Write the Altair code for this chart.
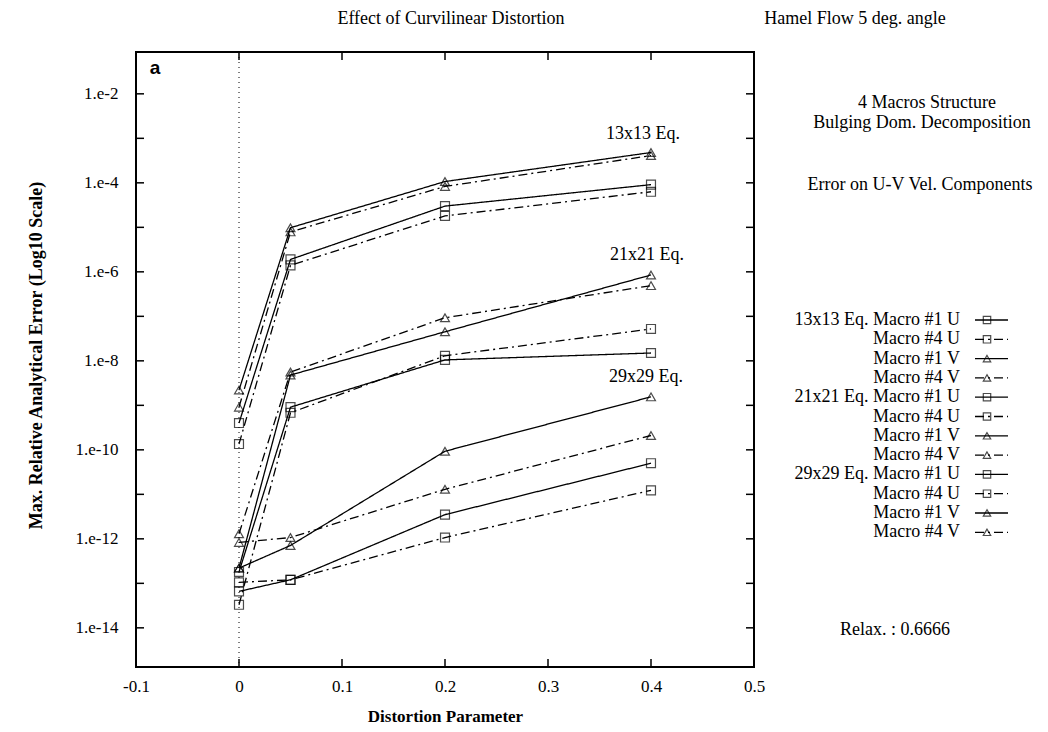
import altair as alt
import pandas as pd

# ---------------- data ----------------
dist = [0.0, 0.05, 0.2, 0.4]
grids = ["13x13", "21x21", "29x29"]
keys = ["Macro #1 U", "Macro #4 U", "Macro #1 V", "Macro #4 V"]

e13_m1u = [4.0e-10, 1.9e-6, 3.0e-5, 9.1e-5]
e13_m4u = [1.35e-10, 1.4e-6, 1.8e-5, 6.3e-5]
e13_m1v = [2.2e-9, 9.8e-6, 1.07e-4, 4.8e-4]
e13_m4v = [9.1e-10, 7.9e-6, 8.3e-5, 4.1e-4]

e21_m1u = [1.8e-13, 9.1e-10, 1.05e-8, 1.5e-8]
e21_m4u = [3.3e-14, 6.8e-10, 1.3e-8, 5.2e-8]
e21_m1v = [2.2e-13, 4.8e-9, 4.5e-8, 8.5e-7]
e21_m4v = [1.3e-12, 5.6e-9, 9.3e-8, 4.9e-7]

e29_m1u = [6.6e-14, 1.2e-13, 3.5e-12, 5.0e-11]
e29_m4u = [1.05e-13, 1.2e-13, 1.07e-12, 1.23e-11]
e29_m1v = [2.2e-13, 7.1e-13, 9.3e-11, 1.55e-9]
e29_m4v = [8.3e-13, 1.07e-12, 1.3e-11, 2.1e-10]

series_values = {
    "13x13": [e13_m1u, e13_m4u, e13_m1v, e13_m4v],
    "21x21": [e21_m1u, e21_m4u, e21_m1v, e21_m4v],
    "29x29": [e29_m1u, e29_m4u, e29_m1v, e29_m4v],
}

x_tick_values = [-0.1, 0.0, 0.1, 0.2, 0.3, 0.4, 0.5]
y_label_values = [1e-2, 1e-4, 1e-6, 1e-8, 1e-10, 1e-12, 1e-14]
y_tick_values = [1e-2, 1e-3, 1e-4, 1e-5, 1e-6, 1e-7, 1e-8, 1e-9, 1e-10,
                 1e-11, 1e-12, 1e-13, 1e-14]

group_labels = ["13x13 Eq.", "21x21 Eq.", "29x29 Eq."]

# ---------------- build tables ----------------
rows = []
for g in grids:
    for k, vals in zip(keys, series_values[g]):
        for xv, v in zip(dist, vals):
            rows.append({"x": xv, "value": v, "series": f"{g} {k}",
                         "macro": k.split()[1], "comp": k[-1]})
df = pd.DataFrame(rows)

W, H = 618, 615
FONT = "Liberation Serif"
FS = 18

xscale = alt.Scale(domain=[-0.1, 0.5], nice=False, zero=False)
yscale = alt.Scale(type="log", domain=[10 ** -14.88, 10 ** -1.06], nice=False)

xaxis = alt.Axis(values=x_tick_values, labelExpr="'' + round(datum.value*10)/10",
                 ticks=False, tickSize=0, domain=False, grid=False,
                 labelPadding=11, labelFlush=False, labelFontSize=17,
                 titleFontSize=17, titleFontWeight="bold",
                 titleY=49, titleBaseline="middle")
yaxis = alt.Axis(values=y_label_values,
                 labelExpr="'1.e' + round(log(datum.value)/LN10)",
                 ticks=False, tickSize=0, domain=False, grid=False,
                 labelPadding=18, labelFlush=False, labelFontSize=17,
                 labelOverlap=False,
                 titleFontSize=18, titleFontWeight="bold",
                 titleX=-100, titleY=303, titleBaseline="middle")

XD = alt.X("x:Q", scale=xscale, axis=xaxis, title="Distortion Parameter")
YD = alt.Y("value:Q", scale=yscale, axis=yaxis,
           title="Max. Relative Analytical Error (Log10 Scale)")

dash_scale = alt.Scale(domain=["#1", "#4"], range=[[1, 0], [9, 4, 2, 4]])
shape_scale = alt.Scale(domain=["U", "V"], range=["square", "triangle-up"])

lines = alt.Chart(df).mark_line(color="black", strokeWidth=1.3).encode(
    x=XD, y=YD, detail="series:N", order="x:Q",
    strokeDash=alt.StrokeDash("macro:N", scale=dash_scale, legend=None),
)
points = alt.Chart(df).mark_point(color="black", filled=False, size=80,
                                  strokeWidth=1.2).encode(
    x=XD, y=YD,
    shape=alt.Shape("comp:N", scale=shape_scale, legend=None),
)

# zero dotted line
zero_df = pd.DataFrame({"x": [0.0]})
zero_line = alt.Chart(zero_df).mark_rule(color="black", strokeWidth=1,
                                         strokeDash=[1, 4]).encode(x=XD)

# inward ticks
xt_df = pd.DataFrame({"x": x_tick_values[1:-1]})
yt_df = pd.DataFrame({"value": y_tick_values})
tick_style = dict(color="black", strokeWidth=1.5)
xt_bottom = alt.Chart(xt_df).mark_rule(**tick_style).encode(
    x=XD, y=alt.value(H), y2=alt.value(H - 8))
xt_top = alt.Chart(xt_df).mark_rule(**tick_style).encode(
    x=XD, y=alt.value(0), y2=alt.value(8))
yt_left = alt.Chart(yt_df).mark_rule(**tick_style).encode(
    y=YD, x=alt.value(0), x2=alt.value(8))
yt_right = alt.Chart(yt_df).mark_rule(**tick_style).encode(
    y=YD, x=alt.value(W - 8), x2=alt.value(W))

# group labels inside the plot (pixel positions of the annotations)
gl_df = pd.DataFrame({"text": group_labels,
                      "px": [507, 511, 510], "py": [82, 203, 325]})
group_text = alt.Chart(gl_df).mark_text(font=FONT, fontSize=FS, color="black",
                                        align="center", baseline="middle").encode(
    x=alt.X("px:Q", scale=None, axis=None),
    y=alt.Y("py:Q", scale=None, axis=None),
    text="text:N")

# free annotations
ann_df = pd.DataFrame({
    "text": ["Effect of Curvilinear Distortion", "Hamel Flow 5 deg. angle",
             "4 Macros Structure", "Bulging Dom. Decomposition",
             "Error on U-V Vel. Components", "Relax. : 0.6666"],
    "px": [315, 719, 791, 786, 784, 759],
    "py": [-33, -33, 51, 71, 133, 578],
})
ann_text = alt.Chart(ann_df).mark_text(font=FONT, fontSize=FS, color="black",
                                       align="center", baseline="middle").encode(
    x=alt.X("px:Q", scale=None, axis=None),
    y=alt.Y("py:Q", scale=None, axis=None),
    text="text:N")

a_df = pd.DataFrame({"text": ["a"]})
a_text = alt.Chart(a_df).mark_text(font="Liberation Sans", fontWeight="bold",
                                   fontSize=19, color="black",
                                   align="center", baseline="middle").encode(
    x=alt.value(19), y=alt.value(16), text="text:N")

# legend (label right-aligned, sample line + marker to the right)
leg_rows = []
for gi, g in enumerate(grids):
    for ki, k in enumerate(keys):
        i = gi * 4 + ki
        label = f"{g} Eq. {k}" if ki == 0 else k
        ly = 268 + 19.3 * i
        leg_rows.append({"label": label, "macro": k.split()[1], "comp": k[-1],
                         "lx": 824, "ly": ly, "l1": 839, "l2": 872, "mx": 851})
leg_df = pd.DataFrame(leg_rows)
leg_text = alt.Chart(leg_df).mark_text(font=FONT, fontSize=FS, color="black",
                                       align="right", baseline="middle").encode(
    x=alt.X("lx:Q", scale=None, axis=None),
    y=alt.Y("ly:Q", scale=None, axis=None),
    text="label:N")
leg_line = alt.Chart(leg_df).mark_rule(color="black", strokeWidth=1.3).encode(
    x=alt.X("l1:Q", scale=None, axis=None),
    x2="l2:Q",
    y=alt.Y("ly:Q", scale=None, axis=None),
    strokeDash=alt.StrokeDash("macro:N", scale=dash_scale, legend=None))
leg_pts = alt.Chart(leg_df).mark_point(color="black", filled=False, size=55,
                                       strokeWidth=1.2).encode(
    x=alt.X("mx:Q", scale=None, axis=None),
    y=alt.Y("ly:Q", scale=None, axis=None),
    shape=alt.Shape("comp:N", scale=shape_scale, legend=None))

chart = alt.layer(
    lines, points, zero_line, xt_bottom, xt_top, yt_left, yt_right,
    group_text, ann_text, a_text, leg_text, leg_line, leg_pts,
).properties(
    width=W, height=H,
    autosize=alt.AutoSizeParams(type="none"),
    padding={"left": 128, "top": 44, "right": 286, "bottom": 57},
    background="white",
).configure_view(
    stroke="black", strokeWidth=2,
).configure_axis(
    labelFont=FONT, titleFont=FONT, labelColor="black", titleColor="black",
).configure_text(font=FONT)

chart.save("out.html", embed_options={"renderer": "svg", "actions": False})
